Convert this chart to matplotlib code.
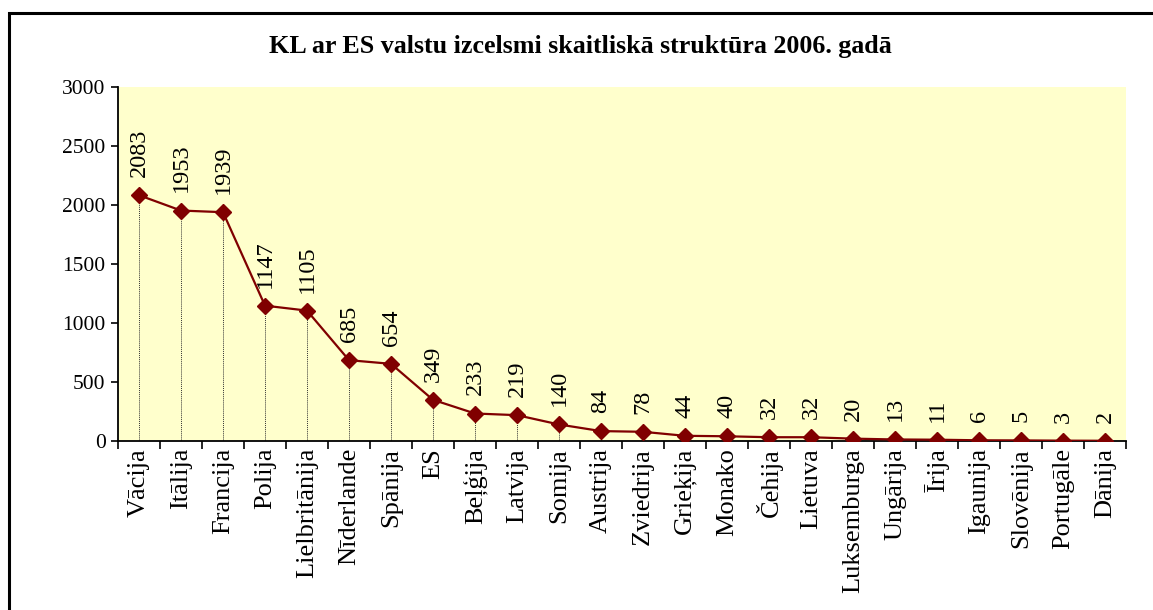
import matplotlib.pyplot as plt
import matplotlib.patches as patches
import numpy as np

# Data
countries = ['Vācija', 'Itālija', 'Francija', 'Polija', 'Lielbritānija', 'Nīderlande',
             'Spānija', 'ES', 'Beļģija', 'Latvija', 'Somija', 'Austrija', 'Zviedrija',
             'Grieķija', 'Monako', 'Čehija', 'Lietuva', 'Luksemburga', 'Ungārija',
             'Īrija', 'Igaunija', 'Slovēnija', 'Portugāle', 'Dānija']
values = [2083, 1953, 1939, 1147, 1105, 685, 654, 349, 233, 219, 140, 84, 78,
          44, 40, 32, 32, 20, 13, 11, 6, 5, 3, 2]
y_ticks = [0, 500, 1000, 1500, 2000, 2500, 3000]
title = 'KL ar ES valstu izcelsmi skaitliskā struktūra 2006. gadā'

plt.rcParams['font.family'] = ['Liberation Serif', 'DejaVu Serif']

fig = plt.figure(figsize=(11.53, 6.10), dpi=100)
fig.patch.set_facecolor('white')

# outer chart border (clipped on right and bottom like the original)
border = patches.Rectangle((9 / 1153, -0.05), 1.1, 1 - 12.5 / 610 + 0.05,
                           transform=fig.transFigure, fill=False,
                           edgecolor='black', linewidth=2.2, clip_on=False)
fig.patches.append(border)

ax = fig.add_axes([118 / 1153, 1 - 441 / 610, (1126 - 118) / 1153, (441 - 87) / 610])
ax.set_facecolor('#FFFFCC')

x = np.arange(len(countries))
ax.vlines(x, 0, values, colors='#333333', linestyles=(0, (1, 1)), linewidth=0.7, zorder=2)
ax.plot(x, values, color='#800000', linewidth=1.6, marker='D', markersize=8.5,
        markerfacecolor='#800000', markeredgecolor='#800000', zorder=3)

for xi, v in zip(x, values):
    ax.annotate(str(v), (xi, v), textcoords='offset points', xytext=(0, 13),
                rotation=90, ha='center', va='bottom', fontsize=17.5)

ax.set_xlim(-0.5, len(countries) - 0.5)
ax.set_ylim(0, 3000)
ax.set_yticks(y_ticks)
ax.tick_params(axis='y', direction='out', length=5, width=1.2, labelsize=15.5, pad=4)

ax.set_xticks(x)
ax.set_xticklabels(countries, rotation=90, fontsize=19)
ax.tick_params(axis='x', which='major', length=0, pad=5)
ax.set_xticks(np.arange(len(countries) + 1) - 0.5, minor=True)
ax.tick_params(axis='x', which='minor', direction='out', length=6, width=1.2)

for s in ['top', 'right']:
    ax.spines[s].set_visible(False)
for s in ['left', 'bottom']:
    ax.spines[s].set_linewidth(1.3)

fig.text(0.503, 1 - 46 / 610, title, ha='center', va='center',
         fontsize=18.7, fontweight='bold')

fig.savefig('out.png', dpi=100)
